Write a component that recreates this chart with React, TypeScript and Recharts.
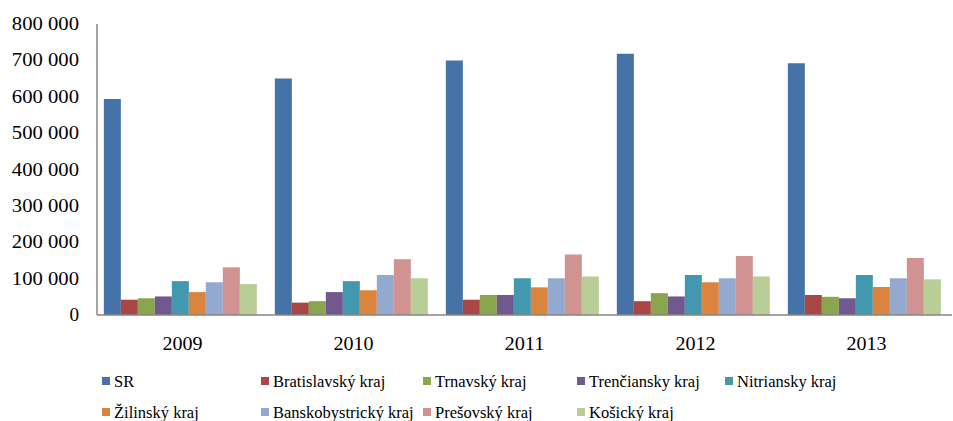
import { BarChart, Bar, XAxis, YAxis, Legend } from "recharts";

// ── data ──
const years = ["2009", "2010", "2011", "2012", "2013"];
const sr = [594000, 650000, 700000, 718000, 692000];
const bratislavsky = [42000, 34000, 42000, 38000, 55000];
const trnavsky = [46000, 38000, 55000, 60000, 50000];
const trenciansky = [51000, 63000, 55000, 51000, 46000];
const nitriansky = [93000, 93000, 101000, 110000, 110000];
const zilinsky = [63000, 68000, 76000, 90000, 77000];
const banskobystricky = [90000, 110000, 101000, 101000, 101000];
const presovsky = [131000, 153000, 166000, 162000, 157000];
const kosicky = [85000, 101000, 106000, 106000, 98000];
const yTicks = [0, 100000, 200000, 300000, 400000, 500000, 600000, 700000, 800000];

const SERIES = [
  { key: "sr", name: "SR", values: sr, color: "#4572A7" },
  { key: "ba", name: "Bratislavský kraj", values: bratislavsky, color: "#AA4643" },
  { key: "tt", name: "Trnavský kraj", values: trnavsky, color: "#89A54E" },
  { key: "tn", name: "Trenčiansky kraj", values: trenciansky, color: "#71588F" },
  { key: "nr", name: "Nitriansky kraj", values: nitriansky, color: "#4198AF" },
  { key: "za", name: "Žilinský kraj", values: zilinsky, color: "#DB843D" },
  { key: "bb", name: "Banskobystrický kraj", values: banskobystricky, color: "#93A9CF" },
  { key: "po", name: "Prešovský kraj", values: presovsky, color: "#D19392" },
  { key: "ke", name: "Košický kraj", values: kosicky, color: "#B9CD96" },
];

const data = years.map((year, i) => {
  const row: Record<string, string | number> = { year };
  SERIES.forEach((s) => (row[s.key] = s.values[i]));
  return row;
});

const FONT = "'Liberation Serif', 'Times New Roman', serif";
const AXIS = "#868686";

const fmt = (v: number) => v.toLocaleString("en-US").replace(/,/g, " ");

function YTick({ y, payload }: any) {
  const label = fmt(payload.value);
  return (
    <text
      x={79}
      y={y}
      dy={6}
      textAnchor="end"
      fontSize={18}
      fontFamily={FONT}
      fill="#000"
      textLength={label.length * 9.6}
      lengthAdjust="spacingAndGlyphs"
    >
      {label}
    </text>
  );
}

function XTick({ x, y, payload }: any) {
  return (
    <text
      x={x}
      y={y + 27}
      textAnchor="middle"
      fontSize={18}
      fontFamily={FONT}
      fill="#000"
      textLength={40}
      lengthAdjust="spacingAndGlyphs"
    >
      {payload.value}
    </text>
  );
}

// legend columns (marker left edge), two rows
const LEGEND_COLS = [102, 261, 423, 577, 725];

function LegendBox() {
  return (
    <svg width={953} height={66} style={{ display: "block" }}>
      {SERIES.map((s, i) => {
        const col = LEGEND_COLS[i % 5];
        const cy = i < 5 ? 26 : 57;
        return (
          <g key={s.key}>
            <rect x={col} y={cy - 4} width={8} height={8} fill={s.color} />
            <text x={col + 12} y={cy + 5.5} fontSize={16.5} fontFamily={FONT} fill="#000">
              {s.name}
            </text>
          </g>
        );
      })}
    </svg>
  );
}

export default function App() {
  return (
    <div style={{ position: "absolute", left: 0, top: 0, background: "#fff" }}>
      <BarChart
        width={953}
        height={421}
        data={data}
        margin={{ top: 24, right: 1, bottom: 0, left: 0 }}
        barGap={0}
        barCategoryGap="4%"
      >
        <XAxis
          dataKey="year"
          height={40}
          tick={<XTick />}
          tickLine={false}
          axisLine={{ stroke: AXIS, strokeWidth: 1.5 }}
        />
        <YAxis
          width={97}
          domain={[0, 800000]}
          ticks={yTicks}
          interval={0}
          tick={<YTick />}
          tickLine={false}
          axisLine={{ stroke: AXIS, strokeWidth: 1.5 }}
        />
        <Legend
          verticalAlign="bottom"
          height={66}
          wrapperStyle={{ left: 0, width: 953 }}
          content={() => <LegendBox />}
        />
        {SERIES.map((s) => (
          <Bar key={s.key} dataKey={s.key} name={s.name} fill={s.color} isAnimationActive={false} />
        ))}
      </BarChart>
    </div>
  );
}
